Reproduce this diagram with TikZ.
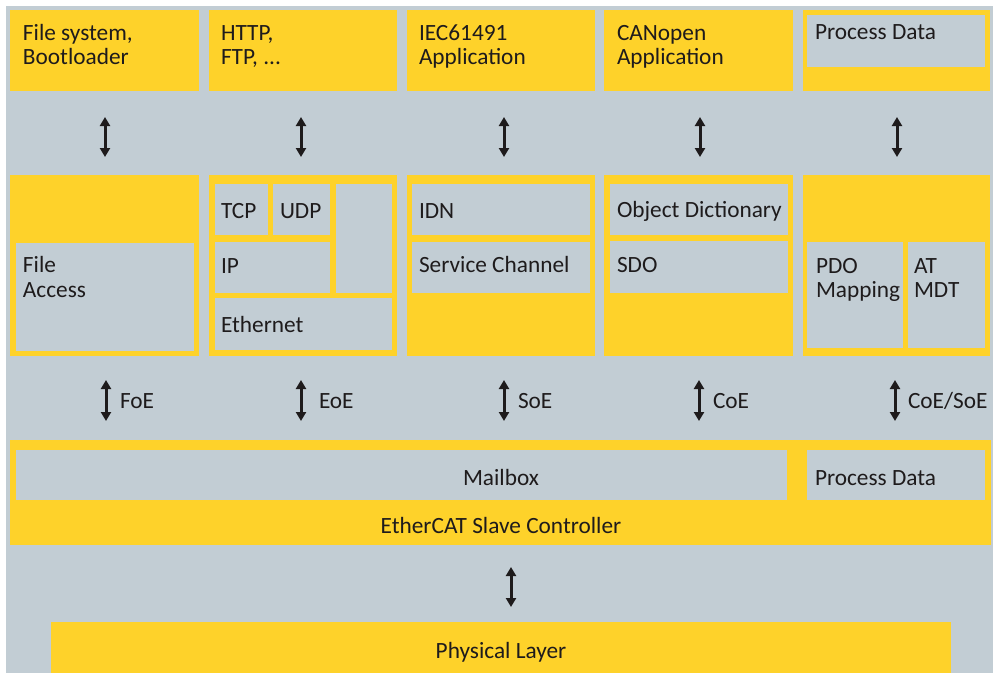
\documentclass[tikz,border=0pt]{standalone}
\usepackage{fontspec}
\setmainfont{Carlito}
\usetikzlibrary{arrows.meta}
\definecolor{ylw}{RGB}{254,210,42}
\definecolor{gry}{RGB}{194,205,212}
\definecolor{txt}{RGB}{30,27,28}
\newcommand\rbox[6]{\node[#6,anchor=north west,minimum width={(#4-#2)*1pt},minimum height={(#5-#3)*1pt}] (#1) at (#2,#3) {};}
\begin{document}
\begin{tikzpicture}[x=1pt,y=-1pt,
  every node/.style={inner sep=0pt,outer sep=0pt},
  yb/.style={fill=ylw,draw=none},
  gb/.style={fill=gry,draw=none},
  lbl/.style={anchor=base west,text=txt,font=\fontsize{23.3}{24}\selectfont},
  clbl/.style={anchor=base,text=txt,font=\fontsize{23.3}{24}\selectfont},
  dbl/.style={draw=txt,line width=3pt,{Triangle[width=10pt,length=9pt]}-{Triangle[width=10pt,length=9pt]}}]
\path[use as bounding box] (0,0) rectangle (993,673);
\fill[gry] (6,6) rectangle (993,673);
% top row
\rbox{t1}{10}{10}{199}{91}{yb}
\rbox{t2}{209}{10}{397}{91}{yb}
\rbox{t3}{407}{10}{595}{91}{yb}
\rbox{t4}{604}{10}{793}{91}{yb}
\rbox{t5}{803}{10}{990}{91}{yb}
\rbox{t5g}{807}{15}{985}{67}{gb}
\node[lbl] (t1a) at (23,40) {File system,};
\node[lbl] (t1b) at (23,64) {Bootloader};
\node[lbl] (t2a) at (221,40) {HTTP,};
\node[lbl] (t2b) at (221,64) {FTP, ...};
\node[lbl] (t3a) at (419,40) {IEC61491};
\node[lbl] (t3b) at (419,64) {Application};
\node[lbl] (t4a) at (617,40) {CANopen};
\node[lbl] (t4b) at (617,64) {Application};
\node[lbl] (t5a) at (815,39) {Process Data};
% middle row
\rbox{m1}{10}{175}{199}{356}{yb}
\rbox{m2}{209}{175}{397}{356}{yb}
\rbox{m3}{407}{175}{595}{356}{yb}
\rbox{m4}{604}{175}{793}{356}{yb}
\rbox{m5}{803}{175}{990}{356}{yb}
\rbox{fa}{16}{243}{194}{351}{gb}
\rbox{tcp}{215}{184}{268}{235}{gb}
\rbox{udp}{273}{184}{330}{235}{gb}
\rbox{ip}{215}{242}{330}{293}{gb}
\rbox{rc}{336}{184}{392}{293}{gb}
\rbox{eth}{215}{298}{392}{350}{gb}
\rbox{idn}{412}{184}{590}{235}{gb}
\rbox{sc}{412}{242}{590}{293}{gb}
\rbox{od}{610}{184}{788}{235}{gb}
\rbox{sdo}{610}{241}{788}{293}{gb}
\rbox{pdo}{807}{242}{903}{348}{gb}
\rbox{at}{908}{242}{985}{348}{gb}
\node[lbl] (fa1) at (23,272) {File};
\node[lbl] (fa2) at (23,297) {Access};
\node[lbl] (tcpt) at (221,218) {TCP};
\node[lbl] (udpt) at (280,218) {UDP};
\node[lbl] (ipt) at (221,273) {IP};
\node[lbl] (etht) at (221,332) {Ethernet};
\node[lbl] (idnt) at (419,218) {IDN};
\node[lbl] (sct) at (419,272) {Service Channel};
\node[lbl] (odt) at (617,217) {Object Dictionary};
\node[lbl] (sdot) at (617,272) {SDO};
\node[lbl] (pdo1) at (816,273) {PDO};
\node[lbl] (pdo2) at (816,297) {Mapping};
\node[lbl] (at1) at (914,273) {AT};
\node[lbl] (at2) at (914,297) {MDT};
% top arrows
\foreach \n/\x in {1/105,2/301,3/504,4/700,5/897}{
  \coordinate (ua\n) at (\x,117);
  \coordinate (ub\n) at (\x,157);
  \draw[dbl] (ua\n) -- (ub\n);
}
% middle arrows
\foreach \n/\x/\lx/\t in {1/106/120/FoE,2/301/319/EoE,3/504/518/SoE,4/699/713/CoE,5/895/908/CoE\slash SoE}{
  \coordinate (la\n) at (\x,380);
  \coordinate (lb\n) at (\x,421);
  \draw[dbl] (la\n) -- (lb\n);
  \node[lbl] (ll\n) at (\lx,408) {\t};
}
% ESC
\rbox{esc}{10}{440}{991}{545}{yb}
\rbox{mb}{16}{450}{787}{500}{gb}
\rbox{pd}{807}{450}{985}{500}{gb}
\node[clbl] (mbt) at (501,485) {Mailbox};
\node[lbl] (pdt) at (815,485) {Process Data};
\node[clbl] (esct) at (501,533) {EtherCAT Slave Controller};
% physical
\rbox{phy}{51}{622}{951}{673}{yb}
\node[clbl] (phyt) at (501,658) {Physical Layer};
\coordinate (ba) at (511,567);
\coordinate (bb) at (511,607);
\draw[dbl] (ba) -- (bb);
\end{tikzpicture}
\end{document}
